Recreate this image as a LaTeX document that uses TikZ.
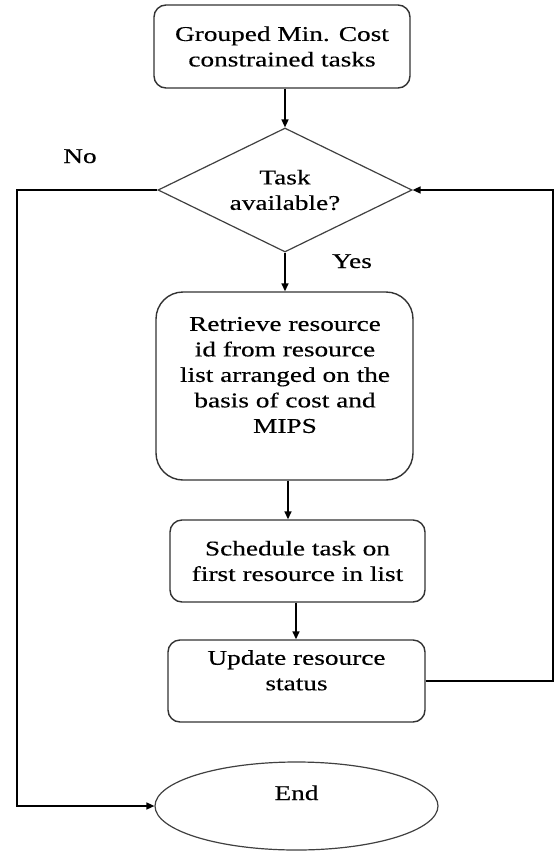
\documentclass[tikz,border=0pt]{standalone}
\usepackage{fontspec}
\setmainfont{Liberation Serif}[FakeStretch=1.3,FakeBold=0.35]
\usetikzlibrary{shapes.geometric,arrows.meta}
\begin{document}
\begin{tikzpicture}[x=1pt,y=-1pt,
  every node/.style={font=\fontsize{21}{25.5}\selectfont, text=black},
  boxstyle/.style={draw=black!80, line width=1.4pt, rounded corners=12pt, align=center, inner sep=0pt},
  decstyle/.style={draw=black!75, line width=1.2pt, diamond, aspect=2, inner sep=0pt, align=center},
  endstyle/.style={draw=black!75, line width=1.2pt, ellipse, inner sep=0pt},
  conn/.style={line width=1.5pt, black},
  arr/.style={conn, -{Triangle[length=8pt,width=7pt]}},
  lbl/.style={anchor=base}]
\useasboundingbox (0,0) rectangle (557,852);
\fill[white] (0,0) rectangle (557,852);

\node[boxstyle, minimum width=256pt, minimum height=83pt] (b1) at (282,46.5)
  {Grouped Min. Cost\\constrained tasks};
\node[decstyle, minimum width=254pt, minimum height=124pt] (d) at (285,190)
  {Task\\available?};
\node[boxstyle, rounded corners=27pt, minimum width=257pt, minimum height=188pt] (b2) at (284.5,386) {};
\node[align=center] (b2t) at (285,375)
  {Retrieve resource\\id from resource\\list arranged on the\\basis of cost and\\MIPS};
\node[boxstyle, minimum width=255pt, minimum height=82pt] (b3) at (297.5,561)
  {Schedule task on\\first resource in list};
\node[boxstyle, minimum width=257pt, minimum height=82pt] (b4) at (296.5,681)
  {Update resource\\status\\[-4pt]};
\node[endstyle, minimum width=283pt, minimum height=88pt] (e) at (296.5,806) {};
\node[lbl] (et) at (296.5,800) {End};

\node[lbl] (no) at (80,163) {No};
\node[lbl] (yes) at (352,268) {Yes};

\coordinate (lft) at (17,0);
\coordinate (rgt) at (553,0);

\draw[arr] (b1.south -| 285,0) -- (d.north);
\draw[arr] (d.south) -- (d.south |- b2.north);
\draw[arr] (b2.south -| 288,0) -- (b3.north -| 288,0);
\draw[arr] (b3.south -| 296,0) -- (b4.north -| 296,0);
\draw[arr] (b4.east) -- (b4.east -| rgt) |- (d.east);
\draw[arr] (d.west) -- (d.west -| lft) |- (e.west);
\end{tikzpicture}
\end{document}
